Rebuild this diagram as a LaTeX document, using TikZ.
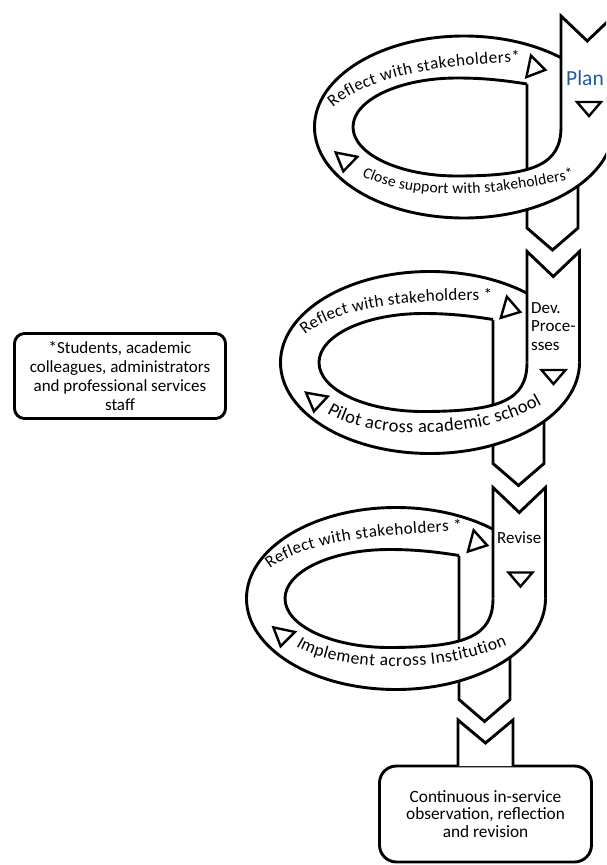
\documentclass[tikz,border=0pt]{standalone}
\usepackage{fontspec}
\setmainfont{Carlito}
\usetikzlibrary{decorations.text}

\begin{document}
\begin{tikzpicture}[x=1pt,y=1pt,
  band/.style={draw=black,line width=2.9pt},
  markline/.style={draw=black,line width=2.4pt,fill=white},
  flowmark/.pic={\draw[markline] (-8,11) -- (9,0) -- (-8,-11) -- cycle;},
  downmark/.pic={\draw[markline] (-12,7) -- (12,7) -- (0,-7) -- cycle;},
  bandtext/.style 2 args={decorate,decoration={text along path,text align={fit to path},
    text={|\fontsize{#1}{#1}\selectfont|#2}}},
  stage/.style={anchor=base west,inner sep=0pt,align=left},
  notebox/.style={draw,line width=2.9pt,fill=white,align=center,inner sep=0pt}]
  \definecolor{plantext}{RGB}{36,90,165}

  \useasboundingbox (0,0) rectangle (606,-865);
  \clip (0,0) rectangle (606,-865);

  \foreach \L/\C in {561/127, 527/362.5, 493/598.5} {
    % tail going down behind the ring
    \filldraw[band,fill=white] (\L-34,-\C+43) -- (\L-34,-\C-101)
      -- (\L-8.5,-\C-123) -- (\L+17,-\C-101) -- (\L+17,-\C+43);
    \fill[white,even odd rule] (\L-97,-\C) ellipse [x radius=149.5,y radius=91]
      (\L-34,-\C+43) .. controls (\L-65,-\C+48) and (\L-85,-\C+49) .. (\L-104,-\C+49)
      arc [start angle=90,end angle=270,x radius=104,y radius=49]
      .. controls (\L-26,-\C-49) and (\L,-\C-37) .. (\L,-\C) -- (\L,-\C+43) -- cycle;
    \draw[band] (\L-97,-\C) ellipse [x radius=149.5,y radius=91];
    \draw[band] (\L-34,-\C+43) .. controls (\L-65,-\C+48) and (\L-85,-\C+49) .. (\L-104,-\C+49)
      arc [start angle=90,end angle=270,x radius=104,y radius=49]
      .. controls (\L-26,-\C-49) and (\L,-\C-37) .. (\L,-\C);
    % strip coming down in front
    \filldraw[band,fill=white] (\L,-\C) -- (\L,-\C+111) -- (\L+26.25,-\C+86)
      -- (\L+52.5,-\C+111) -- (\L+52.5,-\C);
  }

  \path[bandtext={17}{Reflect with stakeholders*}] (333,-108) .. controls (365,-80) and (420,-66) .. (520,-62);
  \path[bandtext={15.5}{Close support with stakeholders*}] (362,-176) .. controls (400,-195) and (470,-203) .. (574,-178);
  \path[bandtext={17}{Reflect with stakeholders *}] (305,-335) .. controls (335,-310) and (390,-300) .. (492,-300);
  \path[bandtext={18.5}{Pilot across academic school}] (327,-413) .. controls (365,-437) and (470,-445) .. (542,-404);
  \path[bandtext={17}{Reflect with stakeholders *}] (270,-569) .. controls (300,-545) and (360,-535) .. (462,-531);
  \path[bandtext={17.5}{Implement across Institution}] (296,-646) .. controls (330,-668) and (430,-678) .. (507,-645);

  \foreach \x/\y/\r in {536.5/68/-12, 345/162.5/-101, 511.5/309.5/-16,
                        315.5/402.5/-100, 478.5/543/-15, 282.5/637.5/-102}
    \pic[rotate=\r] at (\x,-\y) {flowmark};
  \foreach \x/\y in {589/109, 553.5/377, 520.5/579.5}
    \pic at (\x,-\y) {downmark};

  \node[stage,font=\fontsize{21.5}{21.5}\selectfont,text=plantext] (plan) at (566,-85) {Plan};
  \node[stage,font=\fontsize{17}{18.5}\selectfont] (dev) at (531,-350) {Dev.\\Proce-\\sses};
  \node[stage,font=\fontsize{17}{17}\selectfont] (revise) at (497,-543) {Revise};

  \node[notebox,rounded corners=10pt,minimum width=211,minimum height=85,
    font=\fontsize{17}{19}\selectfont] (note) at (120,-376)
    {*Students, academic\\colleagues, administrators\\and professional services\\staff};
  \node[notebox,rounded corners=17pt,minimum width=212,minimum height=96,
    font=\fontsize{17.3}{17.8}\selectfont] (cont) at (485.5,-814)
    {Continuous in-service\\observation, reflection\\and revision};
  \filldraw[band,fill=white] (458,-766) -- (458,-720) -- (485.5,-743) -- (513,-720) -- (513,-766);
\end{tikzpicture}
\end{document}
